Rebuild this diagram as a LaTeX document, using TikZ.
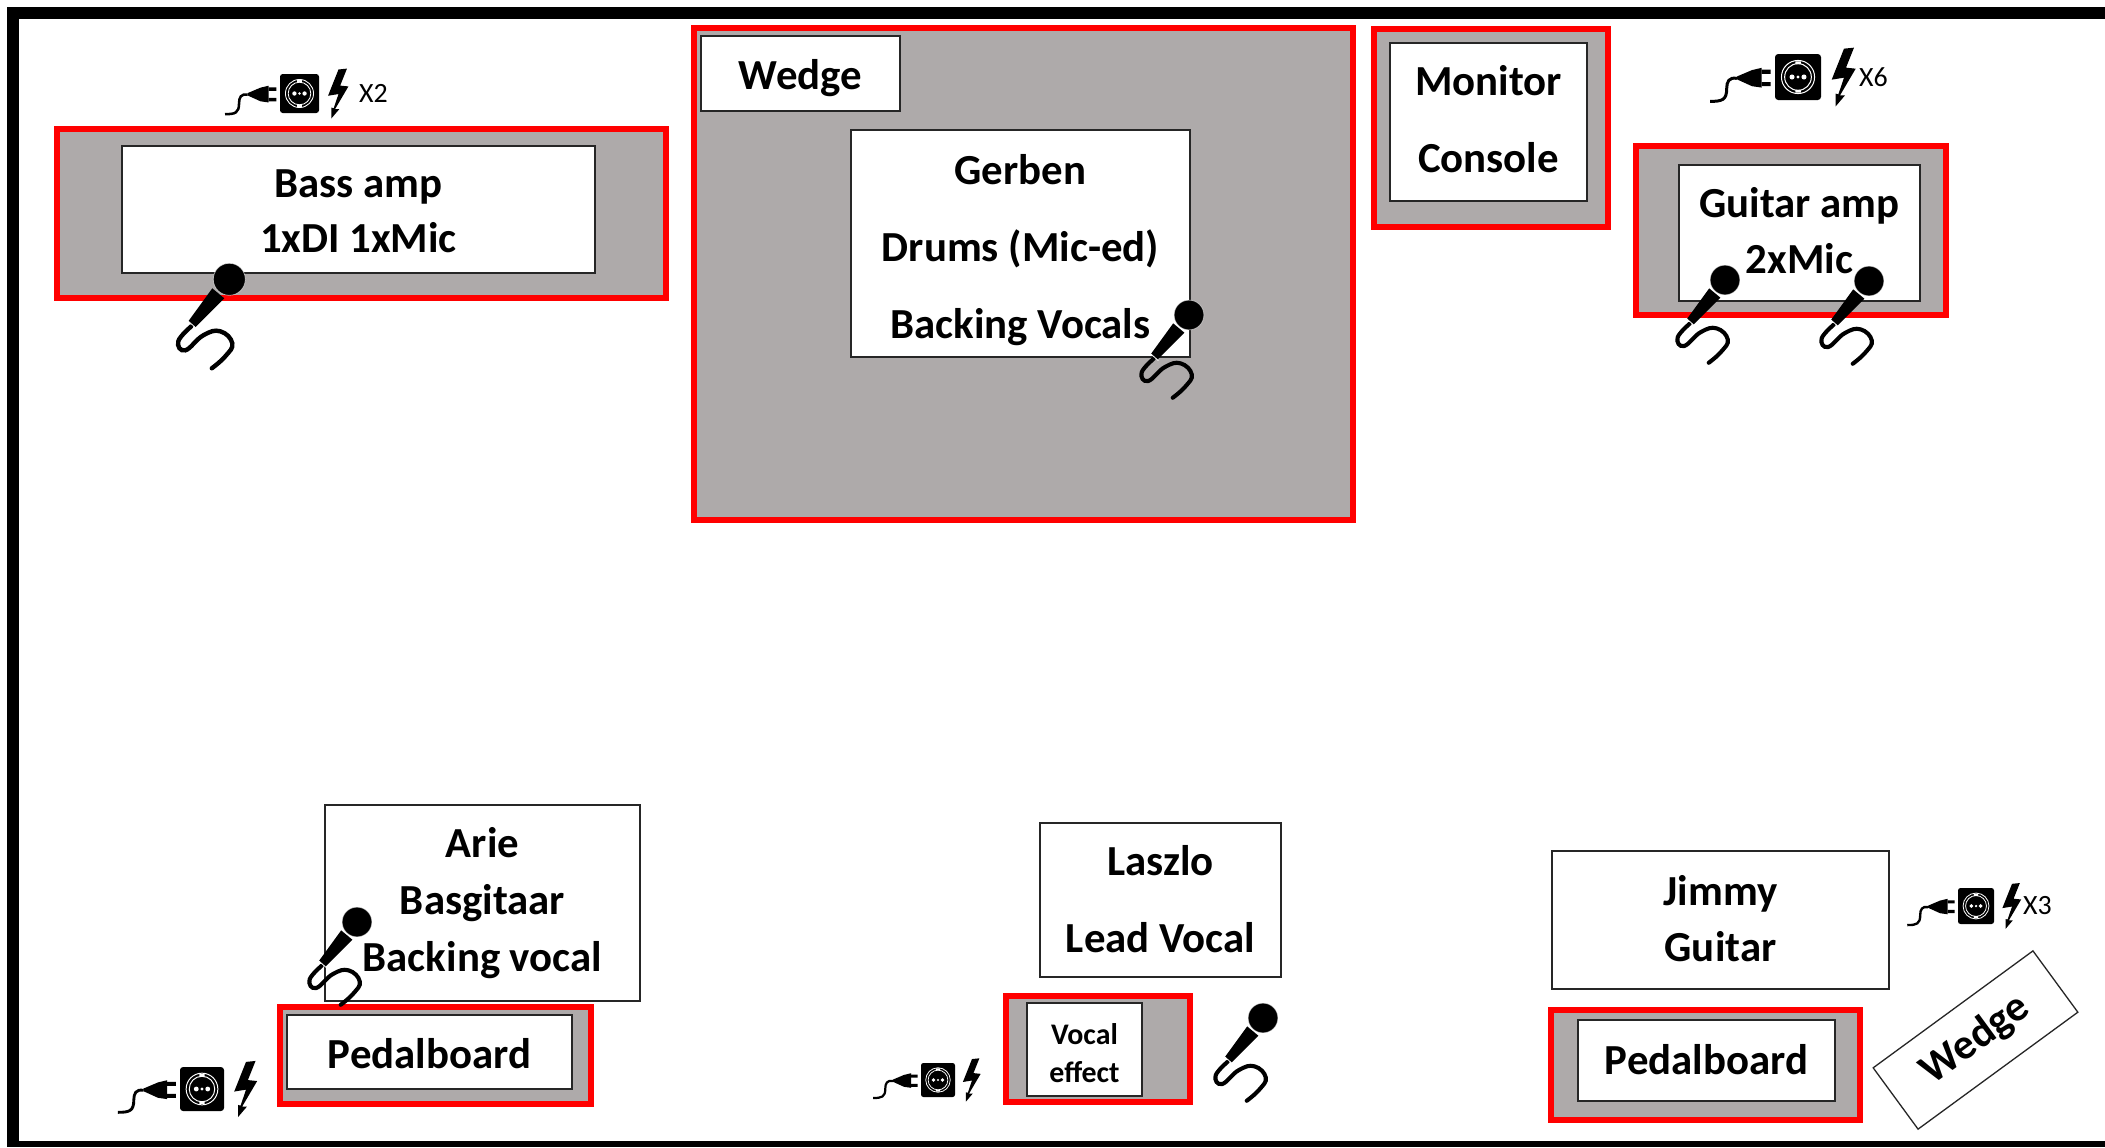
\documentclass[tikz,border=0pt]{standalone}
\usepackage{fontspec}
\setmainfont{Carlito}
\definecolor{stagegray}{HTML}{AEAAAA}
\tikzset{
  redbox/.style={draw=red,fill=stagegray,line width=6bp,inner sep=0pt,outer sep=0pt},
  whitebox/.style={draw=black!85,fill=white,line width=1.3bp,inner sep=0pt,outer sep=0pt,font=\bfseries\fontsize{43}{#1}\selectfont},
  whitebox/.default=56,
  tag/.style={inner sep=0pt,font=\fontsize{28}{32}\selectfont}
}
% red stage area: outer edges given in pixels
\newcommand{\rbox}[5]{\node[redbox,minimum width={(#4-#2-6)*1bp},minimum height={(#5-#3-6)*1bp}] (#1) at ({(#2+#4)/2},{(#3+#5)/2}) {};}
% white box: edges in pixels, line spacing, text raise in bp, text
\newcommand{\wbox}[8]{\node[whitebox=#6,minimum width={(#4-#2)*1bp},minimum height={(#5-#3)*1bp}] (#1) at ({(#2+#4)/2},{(#3+#5)/2}) {\raisebox{\dimexpr#7bp-0.25em\relax}[0pt][0pt]{\begin{tabular}{@{}c@{}}#8\end{tabular}}};}
% microphone: head centre, scale
\newcommand{\micicon}[3]{\begin{scope}[shift={(#1,#2)},scale=#3]
  \draw[black,line width=#3*4.4bp,line cap=round] plot[smooth,tension=.75] coordinates {(-38,47) (-51,62) (-44,71) (-26,56) (-9,52) (3,64) (-4,77) (-17.5,89)};
  \fill[black] (-17,9) -- (-5,19) -- (-34,48) -- (-41,42) -- cycle;
  \draw[white,line width=.8bp] (-42,41) -- (-33,49);
  \draw[white,draw opacity=.6,line width=.7bp,fill=black] (0,0) circle (16);
\end{scope}}
% power icons: socket centre, socket side
\newcommand{\powericon}[3]{\begin{scope}[shift={(#1,#2)},scale=#3]
  \fill[black,rounded corners=#3*0.07bp] (-.5,-.5) rectangle (.5,.5);
  \draw[white,line width=#3*0.022bp] (0,0) circle (.36);
  \draw[white,line width=#3*0.022bp] (0,0) circle (.29);
  \fill[white] (-.13,0) circle (.055) (.13,0) circle (.055);
  \fill[white] (0,0) circle (.035);
  \fill[white] (-.06,-.34) rectangle (.06,-.28) (-.06,.28) rectangle (.06,.34);
  \fill[black] (-.79,-.2) -- (-.79,.23) -- (-1.0,.2) -- (-1.33,.05) -- (-1.33,-.01) -- (-1.0,-.15) -- cycle;
  \fill[black] (-.79,-.16) rectangle (-.596,-.07) (-.79,.11) rectangle (-.596,.2);
  \draw[black,line width=#3*0.065bp] (-1.33,.03) .. controls (-1.5,.0) and (-1.55,.1) .. (-1.55,.25) .. controls (-1.55,.5) and (-1.65,.53) .. (-1.91,.53);
  \fill[black] (1.0,-.616) -- (1.217,-.638) -- (1.043,-.203) -- (1.254,-.181) -- (.913,.399) -- (1.022,.399) -- (.819,.638) -- (.819,.362) -- (.877,.377) -- (1.0,.014) -- (.732,.058) -- cycle;
\end{scope}}
\begin{document}
\begin{tikzpicture}[x=1bp,y=-1bp]
\useasboundingbox (0,0) rectangle (2105,1147);
\fill[white] (0,0) rectangle (2105,1147);
% outer frame
\fill[black] (7,7) rectangle (2105,19);
\fill[black] (7,7) rectangle (19,1147);
\fill[black] (7,1141) rectangle (2105,1147);
% stage areas
\rbox{bassarea}{54}{126}{669}{301}
\rbox{drumarea}{691}{25}{1356}{523}
\rbox{monarea}{1371}{26}{1611}{230}
\rbox{guitararea}{1633}{143}{1949}{318}
\rbox{pedalareaA}{277}{1004}{594}{1107}
\rbox{vocalarea}{1003}{993}{1193}{1105}
\rbox{pedalareaB}{1548}{1007}{1863}{1123}
% boxes
\wbox{bassamp}{122}{146}{595}{273}{55}{0}{Bass amp\\1xDI 1xMic}
\wbox{wedgeA}{701}{36}{900}{111}{56}{0}{Wedge}
\wbox{gerben}{851}{130}{1190}{357}{77}{2}{Gerben\\Drums (Mic-ed)\\Backing Vocals}
\wbox{monitor}{1390}{43}{1587}{201}{78}{8}{Monitor\\Console}
\wbox{guitaramp}{1679}{165}{1920}{301}{56}{3.5}{Guitar amp\\2xMic}
\wbox{arie}{325}{805}{640}{1001}{57}{4.5}{Arie\\Basgitaar\\Backing vocal}
\wbox{pedalA}{287}{1015}{572}{1089}{56}{-.5}{Pedalboard}
\wbox{laszlo}{1040}{823}{1281}{977}{78}{6}{Laszlo\\Lead Vocal}
\node[whitebox,minimum width=115bp,minimum height=93bp,font=\bfseries\fontsize{30}{39}\selectfont] (vocal) at (1084.5,1049.5) {\raisebox{\dimexpr-5bp-0.25em\relax}[0pt][0pt]{\begin{tabular}{@{}c@{}}Vocal\\effect\end{tabular}}};
\wbox{jimmy}{1552}{851}{1889}{989}{56}{2}{Jimmy\\Guitar}
\wbox{pedalB}{1578}{1020}{1835}{1101}{56}{1.5}{Pedalboard}
\node[whitebox,rotate=36.2,minimum width=198bp,minimum height=76bp] (wedgeB) at (1975.5,1040) {Wedge};
% microphones
\micicon{229.3}{279.3}{1}
\micicon{1189}{315}{.93}
\micicon{1725}{280}{.93}
\micicon{1869}{281}{.93}
\micicon{357}{922}{.93}
\micicon{1263}{1018}{.93}
% power
\powericon{299.5}{93.5}{39}
\powericon{1798}{77}{46}
\powericon{202}{1089}{44}
\powericon{938}{1080}{34}
\powericon{1976}{906}{36}
\node[tag,anchor=west] (xtwo) at (359,93) {X2};
\node[tag,anchor=west] (xsix) at (1859,77) {X6};
\node[tag,anchor=west] (xthree) at (2023,906) {X3};
\end{tikzpicture}
\end{document}
